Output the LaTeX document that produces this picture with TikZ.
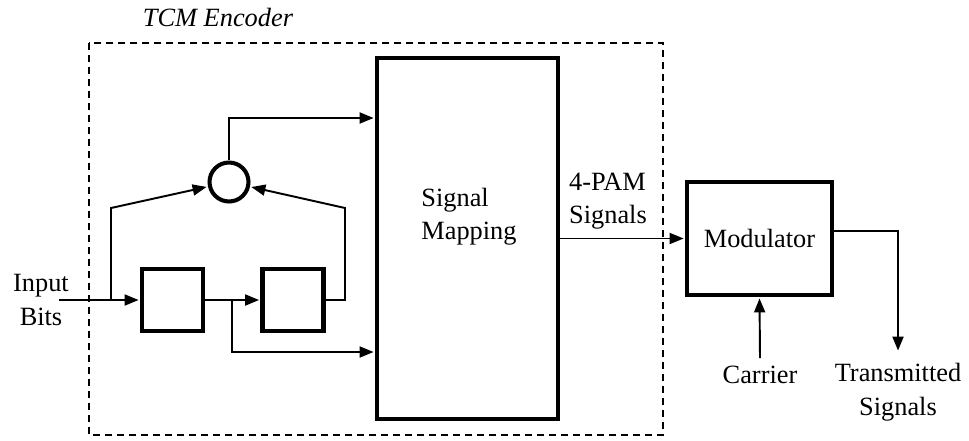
\documentclass[tikz,border=0pt]{standalone}
\usepackage{fontspec}
\setmainfont{Liberation Serif}
\usetikzlibrary{arrows.meta, positioning, calc}

\begin{document}
\begin{tikzpicture}[x=0.02cm, y=-0.02cm,
    font=\fontsize{15}{19}\selectfont,
    wire/.style={line width=1.1pt},
    arr/.style={wire, -{Triangle[length=0.28cm, width=0.22cm]}, shorten >=0.8pt},
    blk/.style={draw, line width=2.3pt, inner sep=0pt},
    lbl/.style={align=center, inner sep=0pt}]
    \useasboundingbox (0,0) rectangle (969,440);

    % Encoder frame
    \draw[wire, dash pattern=on 0.14cm off 0.1cm] (89,43) rectangle (663,435);
    \node[lbl, font=\fontsize{15}{19}\selectfont\itshape] (enclbl) at (218,17) {TCM Encoder};

    % Blocks
    \node[blk, minimum width=3.62cm, minimum height=7.22cm] (map) at (467.5,238.5) {};
    \node[lbl, align=left] (maplbl) at (469,217) {Signal\\Mapping};
    \node[blk, circle, minimum size=0.78cm] (xor) at (229,182) {};
    \node[blk, minimum width=1.22cm, minimum height=1.24cm] (d1) at (172.5,300) {};
    \node[blk, minimum width=1.22cm, minimum height=1.24cm] (d2) at (293,300) {};
    \node[blk, minimum width=2.9cm, minimum height=2.26cm] (mod) at (759.5,238.5) {Modulator};

    % Labels
    \node[lbl] (inlbl) at (41,300) {Input\\Bits};
    \node[lbl, align=left] (pamlbl) at (608,201) {4-PAM\\Signals};
    \node[lbl] (carlbl) at (760,375) {Carrier};
    \node[lbl] (outlbl) at (898,392) {Transmitted\\Signals};

    % Points
    \coordinate (inS) at (59,300);
    \coordinate (b1) at (111,300);
    \coordinate (b1up) at (111,208);
    \coordinate (b2) at (232,300);
    \coordinate (b2low) at (232,352);
    \coordinate (fb) at (345,208);
    \coordinate (top) at (229,118);
    \coordinate (carS) at (760,358);
    \coordinate (outT) at (898,231);
    \coordinate (outE) at (898,352);

    % Connections
    \draw[arr] (inS) -- (d1.west);
    \draw[arr] (b1) -- (b1up) -- (xor);
    \draw[arr] (d1.east) -- (d2.west);
    \draw[arr] (d2.east) -| (fb) -- (xor);
    \draw[arr] (b2) -- (b2low) -- (map.west |- b2low);
    \draw[arr] (xor.north) -- (top) -- (map.west |- top);
    \draw[arr] (map.east) -- (mod.west);
    \draw[arr] (carS) -- (mod.south);
    \draw[arr] (mod.east |- outT) -- (outT) -- (outE);
\end{tikzpicture}
\end{document}
